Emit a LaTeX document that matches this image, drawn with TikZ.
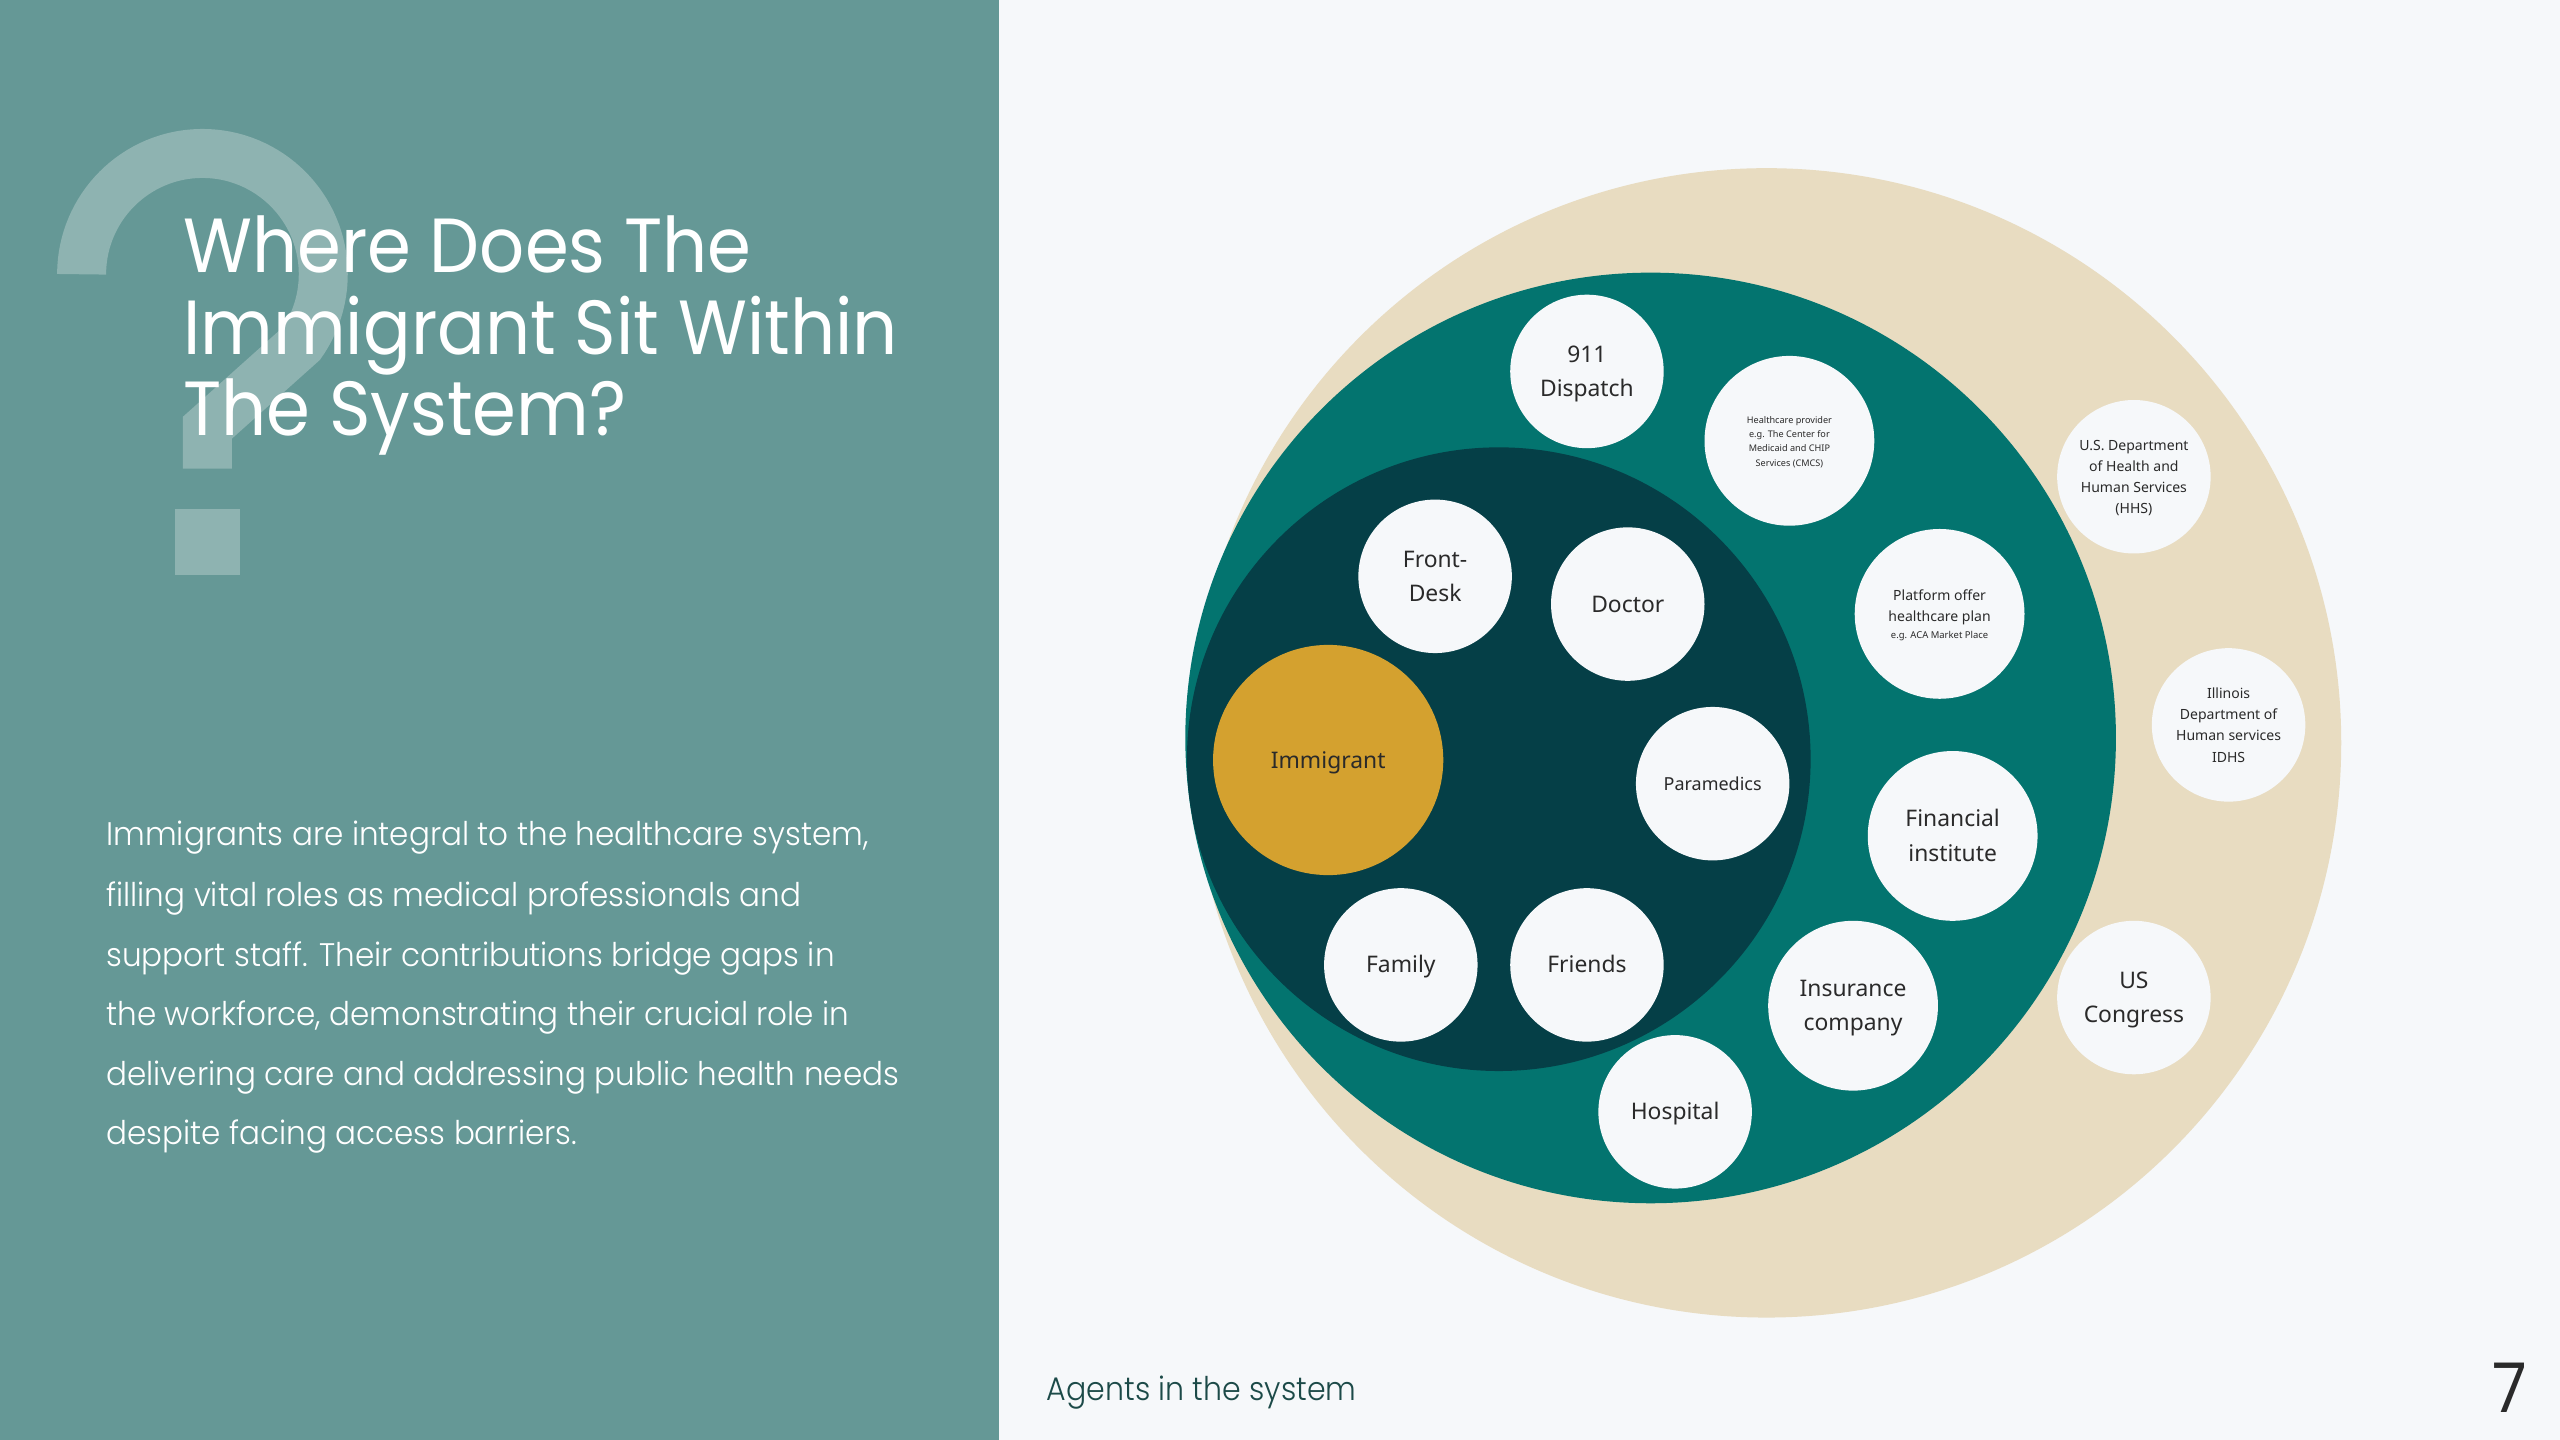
\documentclass[tikz,border=0pt]{standalone}
\usepackage{fontspec}
\setmainfont{Poppins}
\newfontfamily\titlefont{Poppins}[FakeStretch=0.92]
\IfFontExistsTF{Poppins Light}{%
  \newfontfamily\bodyfont{Poppins Light}[FakeStretch=0.95]
  \newfontfamily\footfont{Poppins Light}[FakeStretch=0.92]
}{%
  \newfontfamily\bodyfont{Poppins}[FakeStretch=0.94]
  \newfontfamily\footfont{Poppins}[FakeStretch=0.91]
}
\newfontfamily\circfont{Noto Sans}
\newcommand\ag[1]{\raisebox{-0.7pt}[\height][\depth]{\begin{tabular}{@{}c@{}}#1\end{tabular}}}
\definecolor{panel}{HTML}{659896}
\definecolor{qmark}{HTML}{8EB3B1}
\definecolor{pagebg}{HTML}{F6F8FA}
\definecolor{beige}{HTML}{E8DCC1}
\definecolor{tealc}{HTML}{03746F}
\definecolor{darkc}{HTML}{053F47}
\definecolor{goldc}{HTML}{D4A12F}
\definecolor{ctext}{HTML}{2A2A2A}
\definecolor{foot}{HTML}{1C4A48}
\begin{document}
\begin{tikzpicture}[x=1pt,y=-1pt,
  agent/.style={circle, fill=pagebg, inner sep=0pt, minimum size=94pt, text=ctext,
     font=\circfont\fontsize{14}{21}\selectfont},
  agentL/.style={agent, minimum size=104pt},
  small/.style={font=\circfont\fontsize{8.6}{13}\selectfont},
  title/.style={anchor=base west, text=white, inner sep=0pt, font=\titlefont\fontsize{47}{50}\selectfont},
  body/.style={anchor=base west, text=white, inner sep=0pt, font=\bodyfont\fontsize{20}{36}\selectfont}]
\useasboundingbox (0,0) rectangle (1568,882);
% backgrounds
\fill[panel] (0,0) rectangle (612,882);
\fill[pagebg] (612,0) rectangle (1568,882);
% question mark
\draw[qmark, line width=30pt] (50,168) arc[start angle=180, end angle=395, radius=74] -- (127,262) -- (127,287);
\fill[qmark] (107,312) rectangle (147,352);
% title
\node[title] (t1) at (112,167) {Where Does The};
\node[title] (t2) at (112,217) {Immigrant Sit Within};
\node[title] (t3) at (112,267) {The System?};
% body
\node[body] (b1) at (65,518) {Immigrants are integral to the healthcare system,};
\node[body] (b2) at (65,555) {filling vital roles as medical professionals and};
\node[body] (b3) at (65,592) {support staff. Their contributions bridge gaps in};
\node[body] (b4) at (65,628) {the workforce, demonstrating their crucial role in};
\node[body] (b5) at (65,665) {delivering care and addressing public health needs};
\node[body] (b6) at (65,701) {despite facing access barriers.};
% footer
\node[anchor=base west, text=foot, inner sep=0pt, font=\footfont\fontsize{20}{24}\selectfont] (foottext) at (641,858) {Agents in the system};
\node[anchor=base, text=ctext, inner sep=0pt, font=\titlefont\fontsize{42}{44}\selectfont] (pagenum) at (1537,865) {7};
% rings
\fill[beige] (1082,455) circle[radius=352];
\fill[tealc] (1011,452) circle[radius=285];
\fill[darkc] (918,465) circle[radius=191];
% agents
\node[agent, minimum size=141pt, fill=goldc] (immigrant) at (813.5,465.5) {\ag{Immigrant}};
\node[agent] (dispatch) at (972,227.5) {\ag{911\\Dispatch}};
\node[agentL, font=\circfont\fontsize{5.6}{8.7}\selectfont] (provider) at (1096,270) {\ag{Healthcare provider\\e.g. The Center for\\Medicaid and CHIP\\Services (CMCS)}};
\node[agent] (frontdesk) at (879,353) {\ag{Front-\\Desk}};
\node[agent] (doctor) at (997,370) {\ag{Doctor}};
\node[agentL, small] (platform) at (1188,376) {\ag{Platform offer\\healthcare plan\\[-3pt]{\fontsize{5.8}{7}\selectfont e.g. ACA Market Place}}};
\node[agent, small] (hhs) at (1307,292) {\ag{U.S. Department\\of Health and\\Human Services\\(HHS)}};
\node[agent, small] (idhs) at (1365,444) {\ag{Illinois\\Department of\\Human services\\IDHS}};
\node[agent, font=\circfont\fontsize{11}{16}\selectfont] (paramedics) at (1049,480) {\ag{Paramedics}};
\node[agentL] (financial) at (1196,512) {\ag{Financial\\institute}};
\node[agent] (family) at (858,591) {\ag{Family}};
\node[agent] (friends) at (972,591) {\ag{Friends}};
\node[agentL] (insurance) at (1135,616) {\ag{Insurance\\company}};
\node[agent] (congress) at (1307,611) {\ag{US\\Congress}};
\node[agent] (hospital) at (1026,681) {\ag{Hospital}};
\end{tikzpicture}
\end{document}
